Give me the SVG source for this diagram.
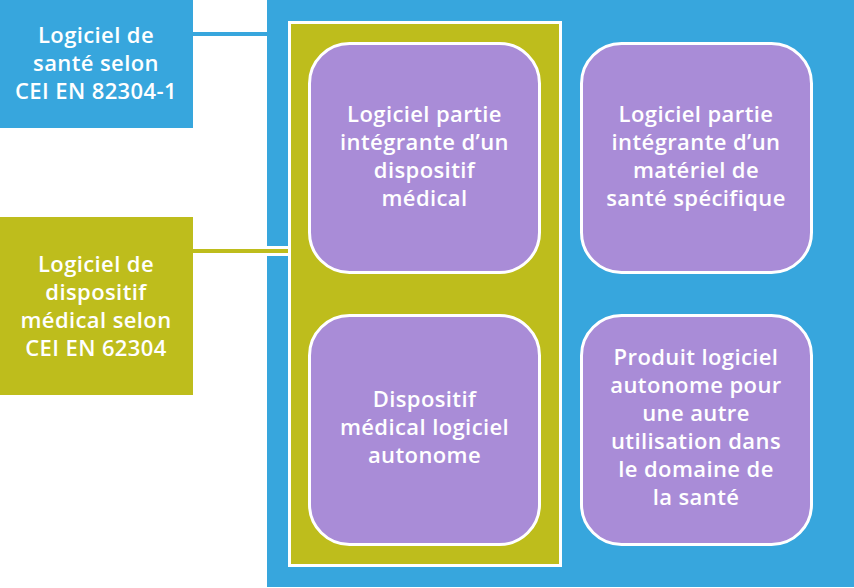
<svg xmlns="http://www.w3.org/2000/svg" width="854" height="588" viewBox="0 0 854 588">
<style>
text{font-family:"Open Sans","Liberation Sans",sans-serif;font-size:22px;font-weight:600;letter-spacing:0.4px;fill:#ffffff;text-anchor:middle}
.blue{fill:#37A6DD}
.green{fill:#BEBD1C}
.purple{fill:#A98CD7;stroke:#ffffff;stroke-width:3}
</style>
<rect id="bg" x="0" y="0" width="854" height="588" fill="#ffffff"/>
<g id="container-sante">
<rect class="blue" x="267" y="0" width="587" height="587"/>
</g>
<g id="connectors">
<rect x="193" y="32" width="74" height="4" class="blue"/>
<rect x="267" y="246" width="22" height="10" fill="#ffffff"/>
<rect x="193" y="249" width="97" height="4" class="green"/>
</g>
<g id="container-dm">
<rect x="289.5" y="22.5" width="271" height="543" class="green" stroke="#ffffff" stroke-width="3"/>
</g>
<g id="label-sante">
<rect class="blue" x="0" y="0" width="193" height="128"/>
<text x="96" y="43">Logiciel de</text>
<text x="96" y="71">santé selon</text>
<text x="96" y="99">CEI EN 82304-1</text>
</g>
<g id="label-dm">
<rect class="green" x="0" y="217" width="193" height="178"/>
<text x="96" y="272">Logiciel de</text>
<text x="96" y="300">dispositif</text>
<text x="96" y="328">médical selon</text>
<text x="96" y="356">CEI EN 62304</text>
</g>
<g id="node-tl">
<rect class="purple" x="309.5" y="43.5" width="230" height="229" rx="40"/>
<text x="424.5" y="122">Logiciel partie</text>
<text x="424.5" y="150">intégrante d’un</text>
<text x="424.5" y="178">dispositif</text>
<text x="424.5" y="206">médical</text>
</g>
<g id="node-tr">
<rect class="purple" x="581.5" y="43.5" width="230" height="229" rx="40"/>
<text x="696" y="122">Logiciel partie</text>
<text x="696" y="150">intégrante d’un</text>
<text x="696" y="178">matériel de</text>
<text x="696" y="206">santé spécifique</text>
</g>
<g id="node-bl">
<rect class="purple" x="309.5" y="315.5" width="230" height="229" rx="40"/>
<text x="424.5" y="407">Dispositif</text>
<text x="424.5" y="435">médical logiciel</text>
<text x="424.5" y="463">autonome</text>
</g>
<g id="node-br">
<rect class="purple" x="581.5" y="315.5" width="230" height="229" rx="40"/>
<text x="696" y="365">Produit logiciel</text>
<text x="696" y="393">autonome pour</text>
<text x="696" y="421">une autre</text>
<text x="696" y="449">utilisation dans</text>
<text x="696" y="477">le domaine de</text>
<text x="696" y="505">la santé</text>
</g>
</svg>
